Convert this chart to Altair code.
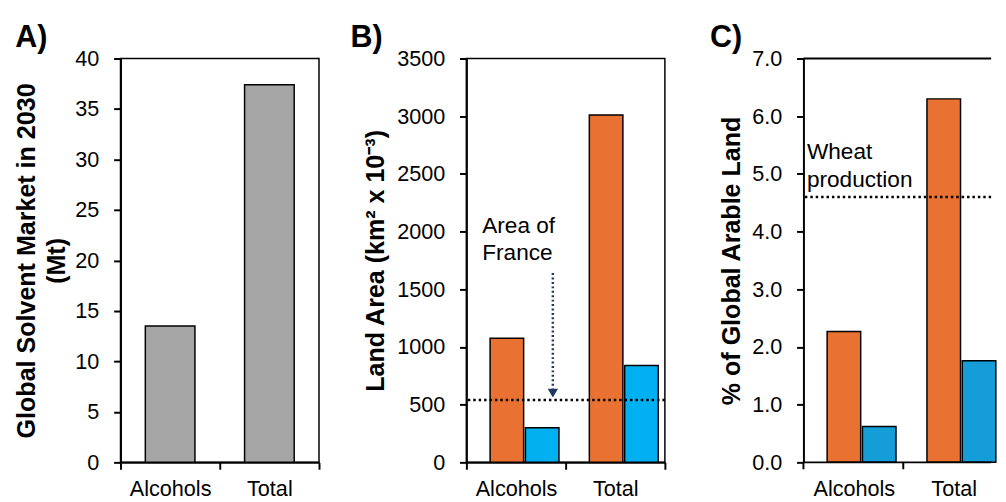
import altair as alt
import pandas as pd

# ---------------- data ----------------
categories = ["Alcohols", "Total"]
market_2030_mt = [13.5, 37.4]

series_names = ["Scenario 1", "Scenario 2"]
land_area_s1 = [1075, 3010]
land_area_s2 = [300, 840]

arable_pct_s1 = [2.27, 6.3]
arable_pct_s2 = [0.62, 1.76]

france_area = 540          # km2 x 10^-3
wheat_share = 4.6          # % of global arable land

france_label = ["Area of", "France"]
france_label_y = 1985
arrow_from, arrow_to, arrow_head = 1640, 640, 600

wheat_label = ["Wheat", "production"]
wheat_label_y = 5.25

a_ticks = list(range(0, 41, 5))
b_ticks = list(range(0, 3501, 500))
c_ticks = [0, 1, 2, 3, 4, 5, 6, 7]

panel_labels = ["A)", "B)", "C)"]

# ---------------- style ----------------
FONT = "Liberation Sans"
W, H = 202, 411
WC = 191
ORANGE = "#E97132"
BLUE_B = "#00B0F0"
BLUE_C = "#149DD6"
GREY = "#A5A5A5"
NAVY = "#1F3A5F"
FS = 22
TFS = 25.5


def x_axis(**kw):
    base = dict(labelAngle=0, tickBand="extent", labelFontSize=FS, labelFont=FONT,
                labelColor="black", labelPadding=10, tickSize=7,
                tickWidth=2, tickColor="black", domainColor="black", domainWidth=2)
    base.update(kw)
    return alt.Axis(**base)


def x_enc(scale=None, axis=None):
    return alt.X("cat:N", sort=categories, title=None,
                 scale=scale or alt.Scale(paddingInner=0, paddingOuter=0),
                 axis=axis or x_axis())


def y_axis(values, fmt, title, pad):
    return alt.Axis(values=values, format=fmt, title=title, grid=False, tickSize=7, tickWidth=2,
                    tickColor="black", domainColor="black", domainWidth=2, labelFontSize=FS,
                    labelFont=FONT, labelColor="black", labelPadding=15, titleFontSize=TFS,
                    titleFont=FONT, titleFontWeight="bold", titleColor="black",
                    titleLineHeight=30.5, titlePadding=pad)


def panel_label(txt, dx):
    return alt.Chart(pd.DataFrame({"label": [txt]})).mark_text(
        align="left", baseline="alphabetic", fontSize=31, fontWeight="bold", font=FONT,
        color="black").encode(x=alt.value(dx), y=alt.value(-12), text="label:N")


# ---------------- panel A ----------------
dfA = pd.DataFrame({"cat": categories, "market": market_2030_mt})
barsA = alt.Chart(dfA).mark_bar(width={"band": 0.5}, color=GREY, stroke="black", strokeWidth=1.5).encode(
    x=x_enc(),
    y=alt.Y("market:Q", scale=alt.Scale(domain=[0, 40], nice=False),
            axis=y_axis(a_ticks, "d", ["Global Solvent Market in 2030", "(Mt)"], 5.5)),
)
chartA = alt.layer(barsA, panel_label(panel_labels[0], -107)).properties(width=W, height=H)

# ---------------- panel B ----------------
dfB = pd.DataFrame({
    "cat": categories * 2,
    "series": [series_names[0]] * 2 + [series_names[1]] * 2,
    "land": land_area_s1 + land_area_s2,
})
barsB = alt.Chart(dfB).mark_bar(stroke="black", strokeWidth=1.5).encode(
    x=x_enc(),
    xOffset=alt.XOffset("series:N", sort=series_names,
                        scale=alt.Scale(paddingInner=0.05, paddingOuter=0.43)),
    y=alt.Y("land:Q", scale=alt.Scale(domain=[0, 3500], nice=False),
            axis=y_axis(b_ticks, "d", "Land Area (km² x 10⁻³)", 8.4)),
    color=alt.Color("series:N", scale=alt.Scale(domain=series_names, range=[ORANGE, BLUE_B]), legend=None),
)
franceB = alt.Chart(pd.DataFrame({"land": [france_area]})).mark_rule(
    color="black", strokeWidth=2.5, strokeDash=[2.5, 3]).encode(y="land:Q")
arrow_df = pd.DataFrame({"cat": ["Alcohols"], "land": [arrow_from], "land2": [arrow_to],
                         "head": [arrow_head]})
arrowB = alt.Chart(arrow_df).mark_rule(color=NAVY, strokeWidth=2.5, strokeDash=[2, 2.5]).encode(
    x=alt.X("cat:N", sort=categories, bandPosition=0.871), y="land:Q", y2="land2:Q")
headB = alt.Chart(arrow_df).mark_point(shape="triangle-down", filled=True, size=110, color=NAVY,
                                       opacity=1).encode(
    x=alt.X("cat:N", sort=categories, bandPosition=0.871), y=alt.Y("head:Q"))
textB = alt.Chart(pd.DataFrame({"cat": ["Alcohols"], "land": [france_label_y]})).mark_text(
    text=france_label, align="left", baseline="alphabetic", fontSize=23, font=FONT,
    lineHeight=27, color="black").encode(
    x=alt.X("cat:N", sort=categories, bandPosition=0.16), y="land:Q")
chartB = alt.layer(barsB, franceB, arrowB, headB, textB, panel_label(panel_labels[1], -118)).properties(
    width=W, height=H)

# ---------------- panel C (runs past the right edge of the picture) ----------------
dfC = pd.DataFrame({
    "cat": categories * 2,
    "scenario": [series_names[0]] * 2 + [series_names[1]] * 2,
    "arable": arable_pct_s1 + arable_pct_s2,
})
c_xscale = alt.Scale(paddingInner=0.12, paddingOuter=0)
c_xaxis = x_axis(tickOpacity=0, domain=False, labelOffset=6.6)
barsC = alt.Chart(dfC).mark_bar(stroke="black", strokeWidth=1.5).encode(
    x=x_enc(c_xscale, c_xaxis),
    xOffset=alt.XOffset("scenario:N", sort=series_names,
                        scale=alt.Scale(paddingInner=0.03, paddingOuter=0.296, align=0.78)),
    y=alt.Y("arable:Q", scale=alt.Scale(domain=[0, 7], nice=False),
            axis=y_axis(c_ticks, ".1f", "% of Global Arable Land", 7.7)),
    color=alt.Color("scenario:N", scale=alt.Scale(domain=series_names, range=[ORANGE, BLUE_C]), legend=None),
)
frameC = alt.Chart(pd.DataFrame({"arable": [0, 7]})).mark_rule(color="black", strokeWidth=2).encode(
    y="arable:Q")
ticksC = alt.Chart(pd.DataFrame({"cat": categories})).mark_rule(color="black", strokeWidth=2).encode(
    x=alt.X("cat:N", sort=categories, bandPosition=0), y=alt.value(H), y2=alt.value(H + 7))
wheatC = alt.Chart(pd.DataFrame({"arable": [wheat_share]})).mark_rule(
    color="black", strokeWidth=2.5, strokeDash=[2.5, 3]).encode(y="arable:Q")
textC = alt.Chart(pd.DataFrame({"cat": ["Alcohols"], "arable": [wheat_label_y]})).mark_text(
    text=wheat_label, align="left", baseline="alphabetic", fontSize=23, font=FONT,
    lineHeight=28, color="black").encode(
    x=alt.X("cat:N", sort=categories, bandPosition=0.04), y="arable:Q")
chartC = alt.layer(barsC, frameC, ticksC, wheatC, textC, panel_label(panel_labels[2], -95)).properties(
    width=WC, height=H, view=alt.ViewBackground(stroke="transparent"))

left = alt.hconcat(chartA, chartB, spacing=29).resolve_scale(x="independent", y="independent", color="independent")
chart = alt.hconcat(left, chartC, spacing=43).resolve_scale(
    x="independent", y="independent", color="independent"
).configure_view(stroke="black", strokeWidth=1.5).properties(
    padding={"left": 5.5, "top": 9, "right": 0, "bottom": 0}, background="white"
)

chart.save("out.html", embed_options={"renderer": "svg", "actions": False})
